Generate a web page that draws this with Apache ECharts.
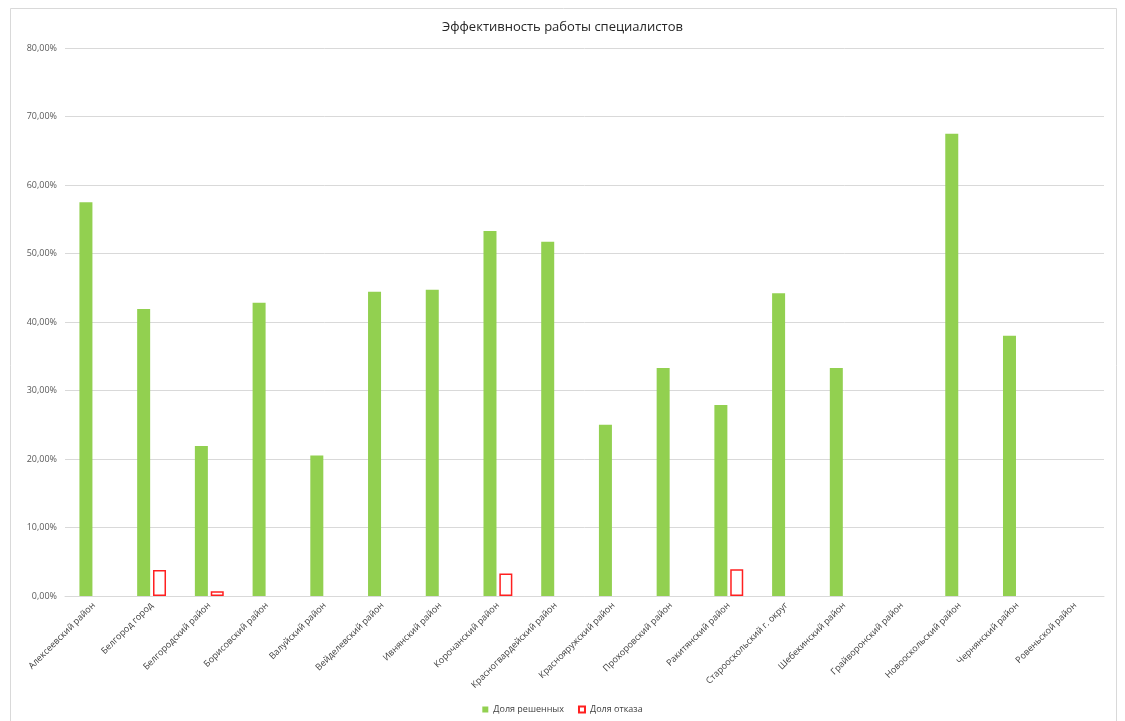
<!DOCTYPE html>
<html><head><meta charset="utf-8">
<script src="https://cdn.jsdelivr.net/npm/echarts@6/dist/echarts.min.js"></script>
<style>html,body{margin:0;padding:0;background:#fff}#c{width:1125px;height:721px}</style>
</head><body><div id="c"></div>
<script>
const categories = ["Алексеевский район","Белгород город","Белгородский район","Борисовский район","Валуйский район","Вейделевский район","Ивнянский район","Корочанский район","Красногвардейский район","Краснояружский район","Прохоровский район","Ракитянский район","Старооскольский г. округ","Шебекинский район","Грайворонский район","Новооскольский район","Чернянский район","Ровеньской район"];
const solvedShare = [57.5,41.9,21.9,42.8,20.5,44.4,44.7,53.3,51.7,25.0,33.3,27.9,44.2,33.3,0,67.5,38.0,0];
const refusalShare = [0,3.8,0.7,0,0,0,0,3.3,0,0,0,3.9,0,0,0,0,0,0];
const seriesNames = ["Доля решенных","Доля отказа"];
const titleText = "Эффективность работы специалистов";

const fmt = v => v.toFixed(2).replace('.', ',') + '%';
const font = "'Open Sans', 'Noto Sans', sans-serif";
const hideZero = arr => arr.map(v => v === 0 ? null : v);
const chart = echarts.init(document.getElementById('c'));
chart.setOption({
  animation:false,
  backgroundColor:'#fff',
  graphic:[{type:'rect',shape:{x:10.5,y:8.5,width:1106,height:720},style:{fill:'none',stroke:'#d9d9d9',lineWidth:1},silent:true}],
  title:{text:titleText,left:'center',top:16,textStyle:{fontFamily:font,fontSize:13,fontWeight:'normal',color:'#262626'}},
  grid:{left:65,right:21,top:48,bottom:125,containLabel:false},
  legend:{bottom:2,left:'center',itemWidth:6,itemHeight:6,itemGap:14,textStyle:{fontFamily:font,fontSize:9,color:'#404040',padding:[0,0,0,0]},
    data:[{name:seriesNames[0],icon:'rect'},{name:seriesNames[1],icon:'rect'}]},
  xAxis:{type:'category',data:categories,
    axisLine:{lineStyle:{color:'#d9d9d9'}},axisTick:{show:false},
    axisLabel:{rotate:45,interval:0,fontFamily:font,fontSize:9,color:'#404040',margin:8}},
  yAxis:{type:'value',min:0,max:80,interval:10,
    axisLine:{show:false},axisTick:{show:false},
    splitLine:{lineStyle:{color:'#d9d9d9'}},
    axisLabel:{formatter:fmt,fontFamily:font,fontSize:9,color:'#595959',margin:8}},
  series:[
    {name:seriesNames[0],type:'bar',data:hideZero(solvedShare),barWidth:13,barGap:'22%',
     itemStyle:{color:'#92d050'}},
    {name:seriesNames[1],type:'bar',data:hideZero(refusalShare),barWidth:13,
     itemStyle:{color:'#ffffff',borderColor:'#ff2020',borderWidth:1.5}}
  ]
});
</script></body></html>
